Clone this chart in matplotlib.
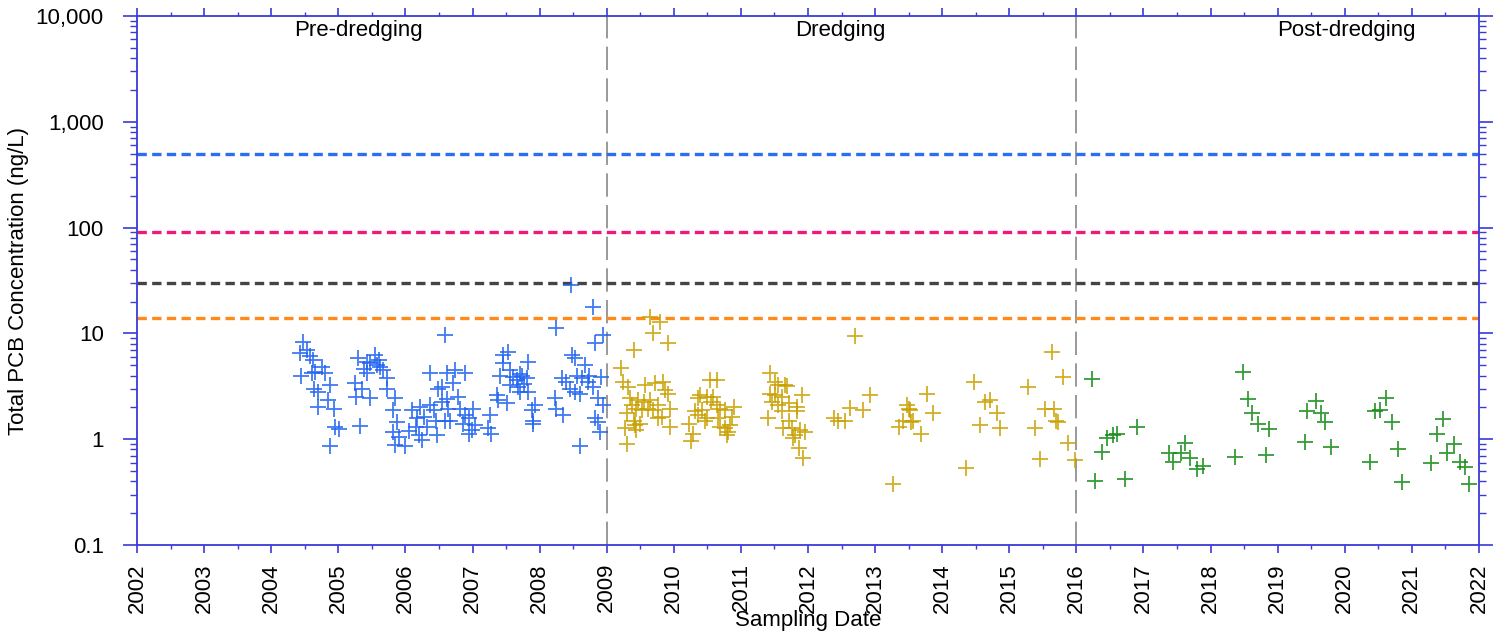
import numpy as np
import matplotlib
matplotlib.use("Agg")
import matplotlib.pyplot as plt
from matplotlib.ticker import FixedLocator, LogLocator, NullFormatter

plt.rcParams['font.family'] = ['Liberation Sans', 'DejaVu Sans']

# pre-dredging (decimal year, ng/L)
pre_t = [2004.48, 2004.53, 2004.43, 2004.58, 2004.45, 2004.60, 2004.65, 2004.75, 2004.80,
         2004.63, 2004.70, 2004.88, 2004.85, 2004.70, 2004.93, 2004.95, 2005.01, 2004.88,
         2005.32, 2005.25, 2005.27, 2005.35, 2005.30, 2005.42, 2005.47, 2005.55, 2005.57,
         2005.62, 2005.67, 2005.42, 2005.47, 2005.72, 2005.72, 2005.85, 2005.82, 2005.87,
         2005.82, 2005.90, 2005.85, 2006.00, 2006.10, 2006.17, 2006.22, 2006.27, 2006.15,
         2006.20, 2006.25, 2006.32, 2006.37, 2006.42, 2006.45, 2006.47, 2006.54, 2006.59,
         2006.37, 2006.59, 2006.49, 2006.62, 2006.64, 2006.74, 2006.89, 2006.71, 2006.55,
         2006.79, 2006.62, 2006.81, 2007.01, 2006.89, 2006.94, 2006.66, 2006.86, 2007.04,
         2006.99, 2006.94, 2007.26, 2007.28, 2007.23, 2007.46, 2007.53, 2007.46, 2007.41,
         2007.56, 2007.61, 2007.66, 2007.73, 2007.83, 2007.81, 2007.56, 2007.68, 2007.76,
         2007.83, 2007.71, 2007.36, 2007.38, 2007.51, 2007.93, 2007.88, 2007.90, 2007.90,
         2008.25, 2008.48, 2008.53, 2008.33, 2008.40, 2008.55, 2008.68, 2008.73, 2008.53,
         2008.60, 2008.45, 2008.72, 2008.80, 2008.23, 2008.25, 2008.35, 2008.92, 2008.83,
         2008.95, 2008.87, 2008.95, 2008.83, 2008.87, 2008.90, 2008.60, 2008.47, 2008.80,
         2004.62, 2005.38, 2005.60, 2006.05, 2007.70, 2008.63]
pre_v = [8.3, 7.0, 6.5, 6.1, 4.0, 4.2, 4.35, 4.85, 4.2,
         3.0, 2.8, 3.25, 2.35, 2.0, 1.95, 1.3, 1.24, 0.86,
         1.33, 3.4, 2.5, 3.0, 5.8, 5.4, 5.2, 6.25, 5.0,
         4.8, 4.5, 4.2, 2.45, 3.75, 3.0, 2.45, 1.9, 1.46,
         1.18, 1.05, 0.88, 0.87, 1.9, 1.58, 2.0, 1.63, 1.3,
         1.09, 0.98, 1.3, 2.1, 1.9, 1.5, 1.1, 2.27, 1.5,
         4.25, 9.7, 3.0, 4.2, 1.95, 4.5, 4.2, 3.4, 3.1,
         2.5, 2.4, 1.95, 1.95, 1.7, 1.58, 1.5, 1.4, 1.36,
         1.22, 1.13, 1.7, 1.13, 1.27, 6.2, 6.7, 5.2, 4.0,
         4.5, 3.9, 3.6, 4.0, 5.4, 3.75, 3.25, 3.1, 3.3,
         2.8, 2.8, 2.6, 2.35, 2.2, 2.1, 1.9, 1.5, 1.4,
         11.2, 6.2, 5.8, 3.75, 3.5, 4.0, 5.0, 4.0, 2.8,
         2.7, 3.0, 3.5, 3.1, 2.45, 1.95, 1.7, 3.9, 8.05,
         9.7, 2.45, 2.1, 1.58, 1.46, 1.18, 0.86, 28.5, 17.9,
         5.6, 4.6, 5.6, 1.2, 4.1, 3.8]

# dredging
dr_t = [2009.65, 2009.79, 2009.69, 2009.92, 2009.40, 2009.22, 2009.25, 2009.32, 2009.57,
        2009.72, 2009.84, 2009.87, 2009.92, 2009.35, 2009.37, 2009.47, 2009.55, 2009.65,
        2009.77, 2009.44, 2009.52, 2009.69, 2009.94, 2009.30, 2009.40, 2009.50, 2009.77,
        2009.82, 2009.94, 2009.27, 2009.44, 2009.30, 2009.42, 2009.62,
        2010.54, 2010.64, 2010.39, 2010.49, 2010.59, 2010.36, 2010.56, 2010.64, 2010.69,
        2010.76, 2010.89, 2010.32, 2010.42, 2010.36, 2010.49, 2010.86, 2010.66, 2010.22,
        2010.69, 2010.76, 2010.81, 2010.79, 2010.84, 2010.29, 2010.26, 2010.46,
        2011.44, 2011.51, 2011.56, 2011.66, 2011.69, 2011.43, 2011.51, 2011.61, 2011.91,
        2011.46, 2011.56, 2011.71, 2011.83, 2011.61, 2011.83, 2011.41, 2011.71, 2011.63,
        2011.76, 2011.88, 2011.96, 2011.78, 2011.86, 2011.93, 2011.80,
        2012.38, 2012.45, 2012.55, 2012.63, 2012.82, 2012.92, 2012.70,
        2013.47, 2013.50, 2013.42, 2013.57, 2013.35, 2013.27, 2013.77, 2013.87, 2013.69,
        2013.52, 2013.54,
        2014.36, 2014.47, 2014.56, 2014.64, 2014.71, 2014.81, 2014.86,
        2015.28, 2015.38, 2015.46, 2015.53, 2015.66, 2015.63, 2015.70, 2015.72, 2015.80,
        2015.87, 2015.98]
dr_v = [14.4, 12.9, 10.2, 8.1, 7.0, 4.7, 3.5, 3.1, 3.25,
        3.4, 3.5, 2.9, 2.7, 2.45, 2.1, 2.35, 2.27, 2.35,
        2.1, 1.95, 1.9, 1.9, 1.95, 1.77, 1.5, 1.4, 1.58,
        1.63, 1.3, 1.27, 1.22, 0.91, 1.36, 1.95,
        3.6, 3.6, 2.6, 2.5, 2.5, 2.45, 2.27, 2.1, 1.95,
        1.9, 2.0, 1.84, 1.9, 1.7, 1.58, 1.63, 1.58, 1.4,
        1.3, 1.27, 1.18, 1.1, 1.36, 1.13, 0.97, 1.5,
        4.2, 3.5, 3.25, 3.25, 3.15, 2.7, 2.6, 2.5, 2.6,
        2.27, 2.1, 2.2, 2.0, 1.84, 1.84, 1.58, 1.5, 1.27,
        1.27, 1.22, 1.18, 1.02, 0.82, 0.66, 1.1,
        1.58, 1.5, 1.5, 1.98, 1.9, 2.6, 9.4,
        2.1, 1.95, 1.5, 1.5, 1.3, 0.38, 2.7, 1.77, 1.13,
        1.9, 1.46,
        0.53, 3.5, 1.36, 2.27, 2.35, 1.77, 1.27,
        3.1, 1.27, 0.65, 1.95, 1.95, 6.7, 1.5, 1.46, 3.85,
        0.92, 0.63]

# post-dredging
post_t = [2016.24, 2016.28, 2016.38, 2016.45, 2016.55, 2016.60, 2016.72, 2016.91,
          2017.38, 2017.44, 2017.56, 2017.62, 2017.69, 2017.80, 2017.88,
          2018.37, 2018.48, 2018.56, 2018.61, 2018.71, 2018.83, 2018.87,
          2019.41, 2019.44, 2019.57, 2019.64, 2019.70, 2019.80,
          2020.38, 2020.45, 2020.52, 2020.61, 2020.71, 2020.80, 2020.86,
          2021.29, 2021.37, 2021.47, 2021.53, 2021.63, 2021.72, 2021.79, 2021.85]
post_v = [3.7, 0.40, 0.76, 1.02, 1.1, 1.13, 0.42, 1.3,
          0.74, 0.61, 0.74, 0.93, 0.66, 0.52, 0.56,
          0.68, 4.3, 2.4, 1.78, 1.38, 0.71, 1.24,
          0.94, 1.85, 2.31, 1.78, 1.46, 0.85,
          0.61, 1.85, 1.9, 2.47, 1.46, 0.81, 0.39,
          0.59, 1.12, 1.54, 0.74, 0.91, 0.61, 0.55, 0.38]

# screening levels (ng/L) and their colours
levels = [500, 90, 30, 14]
level_colors = ['#2a6ff2', '#ee1a7a', '#444444', '#ff8a1a']

phase_breaks = [2009, 2016]
phase_names = ['Pre-dredging', 'Dredging', 'Post-dredging']
phase_label_x = [2005.3, 2012.48, 2020.02]

years = list(range(2002, 2023))

axcol = '#3a3ad8'
fs = 16

fig = plt.figure(figsize=(14.93, 6.33), dpi=100)
ax = fig.add_axes([0.0918, 0.139, 0.8988, 0.8357])

for lv, c in zip(levels, level_colors):
    ax.axhline(lv, color=c, lw=2.4, ls=(0, (2.8, 1.6)), zorder=2)

for b in phase_breaks:
    ax.axvline(b, color='#888888', lw=1.2, ls=(0, (14, 5)), zorder=1)

mk = dict(marker='+', ls='none', ms=11.5, mew=1.3, alpha=0.85, zorder=3)
ax.plot(pre_t, pre_v, color='#1f63f0', **mk)
ax.plot(dr_t, dr_v, color='#c9a000', **mk)
ax.plot(post_t, post_v, color='#128a12', **mk)

for name, xp in zip(phase_names, phase_label_x):
    ax.text(xp, 0.9735, name, transform=ax.get_xaxis_transform(),
            ha='center', va='center', fontsize=fs)

ax.set_yscale('log')
ax.set_ylim(0.1, 10000)
ax.set_xlim(2002, 2022)

ax.xaxis.set_major_locator(FixedLocator(years))
ax.xaxis.set_minor_locator(FixedLocator([y + 0.5 for y in years[:-1]]))
ax.set_xticklabels([str(y) for y in years], rotation=90, fontsize=fs)
ax.yaxis.set_minor_locator(LogLocator(base=10, subs=np.arange(2, 10), numticks=20))
ax.yaxis.set_minor_formatter(NullFormatter())
ax.set_yticks([0.1, 1, 10, 100, 1000, 10000])
ax.set_yticklabels(['0.1', '1', '10', '100', '1,000', '10,000'], fontsize=fs)

ax.tick_params(axis='y', which='major', direction='out', length=10, width=1.2,
               color=axcol, pad=14, left=True, right=True)
ax.tick_params(axis='y', which='minor', direction='out', length=5, width=1,
               color=axcol, left=True, right=True)
ax.tick_params(axis='x', which='major', direction='out', length=6, width=1.2,
               color=axcol, pad=7, top=True, bottom=True)
ax.tick_params(axis='x', which='minor', direction='out', length=3, width=1,
               color=axcol, top=True, bottom=True)
for s in ax.spines.values():
    s.set_color(axcol)
    s.set_linewidth(1.3)

ax.set_xlabel('Sampling Date', fontsize=fs, labelpad=-2)
ax.set_ylabel('Total PCB Concentration (ng/L)', fontsize=fs, labelpad=5)

fig.savefig('out.png', dpi=100)
